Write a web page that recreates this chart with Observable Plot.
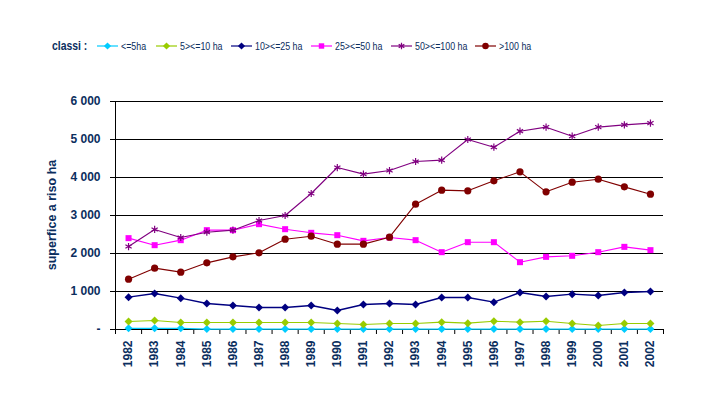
<!DOCTYPE html>
<html>
<head>
<meta charset="utf-8">
<script src="https://cdn.jsdelivr.net/npm/d3@7"></script>
<script src="https://cdn.jsdelivr.net/npm/@observablehq/plot@0.6"></script>
<style>
  html, body { margin: 0; padding: 0; background: #fff; }
  #chart { width: 704px; height: 397px; }
</style>
</head>
<body>
<div id="chart"></div>
<script>
const years = [1982, 1983, 1984, 1985, 1986, 1987, 1988, 1989, 1990, 1991, 1992,
               1993, 1994, 1995, 1996, 1997, 1998, 1999, 2000, 2001, 2002];
const seriesNames = ["<=5ha", "5><=10 ha", "10><=25 ha", "25><=50 ha", "50><=100 ha", ">100 ha"];
const seriesColors = ["#00CCFF", "#99CC00", "#000080", "#FF00FF", "#800080", "#800000"];
const seriesSymbols = ["diamond2", "diamond2", "diamond2", "square", "asterisk", "circle"];

const upTo5    = [30, 30, 30, 10, 10, 10, 10, 10, 10, 10, 10, 10, 10, 10, 10, 10, 10, 10, 10, 10, 10];
const from5    = [211, 237, 184, 184, 184, 184, 184, 184, 158, 132, 158, 158, 193, 167, 219, 193, 219, 158, 105, 158, 158];
const from10   = [851, 947, 825, 684, 632, 579, 579, 632, 500, 658, 684, 658, 842, 842, 719, 974, 868, 930, 895, 974, 1000];
const from25   = [2404, 2219, 2351, 2614, 2614, 2772, 2640, 2544, 2482, 2333, 2421, 2351, 2035, 2298, 2298, 1772, 1912, 1939, 2035, 2175, 2088];
const from50   = [2184, 2632, 2421, 2561, 2614, 2868, 3000, 3579, 4263, 4088, 4184, 4421, 4456, 5000, 4798, 5219, 5325, 5088, 5325, 5386, 5430];
const over100  = [1325, 1614, 1509, 1754, 1912, 2018, 2377, 2456, 2246, 2246, 2430, 3298, 3667, 3649, 3912, 4149, 3623, 3877, 3956, 3754, 3561];
const seriesValues = [upTo5, from5, from10, from25, from50, over100];

const yTicks = [0, 1000, 2000, 3000, 4000, 5000, 6000];
const gridTicks = [1000, 2000, 3000, 4000, 5000, 6000];
const yTitle = "superfice a riso ha";
const legendTitle = "classi :";

const textColor = "#0B2E5E";
const font = "'Liberation Sans', Arial, sans-serif";

const bounds = d3.range(years.length + 1).map(i => years[0] - 0.5 + i);
const series = seriesNames.map((name, k) => ({
  name, color: seriesColors[k], symbol: seriesSymbols[k],
  data: years.map((year, i) => ({year, value: seriesValues[k][i], name}))
}));
const symbolR = {diamond2: 3.6, square: 3.4, asterisk: 3.4, circle: 3.6};

const marks = [
  Plot.ruleY(gridTicks, {stroke: "#000", strokeWidth: 1}),
  Plot.ruleX([bounds[0]], {stroke: "#000", strokeWidth: 1}),
  Plot.ruleY([0], {stroke: "#000", strokeWidth: 1}),
  Plot.axisY({ticks: yTicks, tickSize: 5, tickPadding: 10, label: null,
    tickFormat: d => d === 0 ? "-" : d3.format(",")(d).replace(",", " "),
    fontSize: 12, fontWeight: "bold", fill: textColor, stroke: "#000"}),
  Plot.axisX({ticks: bounds, tickSize: 5, label: null, tickFormat: () => "", stroke: "#000"}),
  Plot.axisX({ticks: years, tickSize: 0, tickPadding: 11, tickRotate: -90, label: null,
    tickFormat: d => String(d), fontSize: 12, fontWeight: "bold", fill: textColor})
];
for (const s of series) {
  marks.push(Plot.line(s.data, {x: "year", y: "value", stroke: s.color, strokeWidth: s.name === "10><=25 ha" ? 1.4 : 1.1}));
  if (s.symbol === "asterisk") {
    marks.push(Plot.dot(s.data, {x: "year", y: "value", symbol: "asterisk", r: symbolR.asterisk, stroke: s.color, strokeWidth: 1.2}));
  } else {
    marks.push(Plot.dot(s.data, {x: "year", y: "value", symbol: s.symbol, r: symbolR[s.symbol], fill: s.color, stroke: "none"}));
  }
}

const chart = Plot.plot({
  width: 704, height: 397,
  marginLeft: 115, marginRight: 41, marginTop: 101, marginBottom: 68,
  x: {type: "linear", domain: [bounds[0], bounds[bounds.length - 1]]},
  y: {type: "linear", domain: [0, 6000]},
  style: {fontFamily: font, background: "#fff", overflow: "visible"},
  marks
});

const svg = d3.select(chart);
// y-axis title
svg.append("text")
  .attr("transform", "translate(53,215) rotate(-90)")
  .attr("text-anchor", "middle").attr("dominant-baseline", "middle")
  .attr("font-family", font).attr("font-size", 12.5).attr("font-weight", "bold")
  .attr("fill", textColor).text(yTitle);

// legend (Excel-style condensed text)
const squeeze = 0.77;
const lg = svg.append("g").attr("font-family", font).attr("text-anchor", "start");
lg.append("text").attr("transform", `translate(52,50) scale(${squeeze},1)`).attr("text-anchor", "start")
  .attr("font-size", 13.5).attr("font-weight", "bold").attr("fill", textColor).text(legendTitle);
const legendX = [97, 156, 231, 311, 391, 475];
const symType = {diamond2: d3.symbolDiamond2, square: d3.symbolSquare, asterisk: d3.symbolAsterisk, circle: d3.symbolCircle};
series.forEach((s, k) => {
  const x0 = legendX[k], y0 = 46;
  lg.append("line").attr("x1", x0).attr("x2", x0 + 21).attr("y1", y0).attr("y2", y0)
    .attr("stroke", s.color).attr("stroke-width", 1.2);
  const r = symbolR[s.symbol] * 0.9;
  const p = lg.append("path")
    .attr("d", d3.symbol(symType[s.symbol], Math.PI * r * r)())
    .attr("transform", `translate(${x0 + 10.5},${y0})`);
  if (s.symbol === "asterisk") p.attr("fill", "none").attr("stroke", s.color).attr("stroke-width", 1.2);
  else p.attr("fill", s.color);
  lg.append("text").attr("transform", `translate(${x0 + 24},${y0 + 0.5}) scale(${squeeze},1)`)
    .attr("dominant-baseline", "middle").attr("text-anchor", "start")
    .attr("font-size", 11.5).attr("fill", textColor).text(s.name);
});

document.getElementById("chart").appendChild(chart);
</script>
</body>
</html>
